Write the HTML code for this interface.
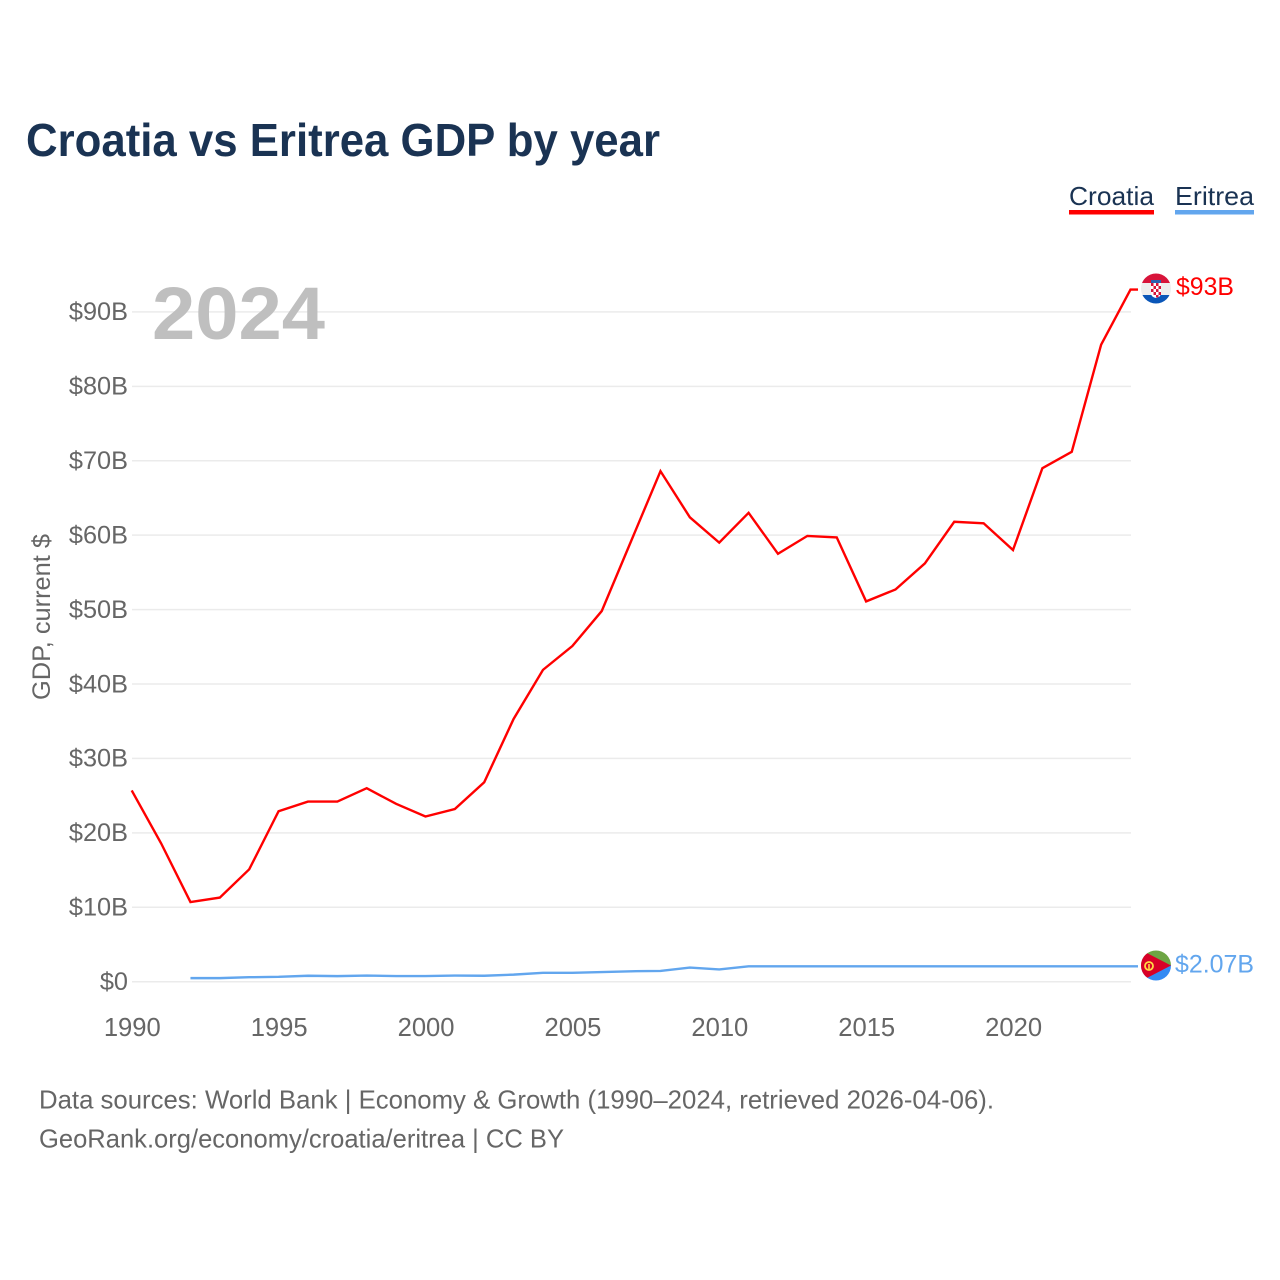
<!DOCTYPE html>
<html lang="en">
<head>
<meta charset="utf-8">
<title>Croatia vs Eritrea GDP by year</title>
<style>
html,body{margin:0;padding:0;background:#fff;}
svg{display:block;}
text{font-family:"Liberation Sans",sans-serif;}
</style>
</head>
<body>
<svg id="chart" xmlns="http://www.w3.org/2000/svg" width="1280" height="1280" viewBox="0 0 1280 1280">
  <defs>
    <clipPath id="flag-clip-hr"><circle cx="1156" cy="288.5" r="15"/></clipPath>
    <clipPath id="flag-clip-er"><circle cx="1156" cy="965.5" r="15"/></clipPath>
  </defs>
  <rect width="1280" height="1280" fill="#fff"/>
  <text x="26" y="156" font-size="46" font-weight="700" fill="#1a3353" textLength="634" lengthAdjust="spacingAndGlyphs">Croatia vs Eritrea GDP by year</text>

  <g>
    <g>
      <text x="1069" y="205" font-size="26" fill="#1a3353" textLength="85" lengthAdjust="spacingAndGlyphs">Croatia</text>
      <rect x="1069" y="210" width="85" height="4.5" fill="#ff0000"/>
    </g>
    <g>
      <text x="1175" y="205" font-size="26" fill="#1a3353" textLength="79" lengthAdjust="spacingAndGlyphs">Eritrea</text>
      <rect x="1175" y="210" width="79" height="4.5" fill="#62a6ee"/>
    </g>
  </g>

  <g id="grid"></g>
  <g id="y-axis"></g>
  <g id="x-axis"></g>

  <text x="152" y="339" font-size="74" font-weight="700" fill="#bfbfbf" textLength="173" lengthAdjust="spacingAndGlyphs">2024</text>

  <text transform="translate(50,617) rotate(-90)" text-anchor="middle" font-size="25" fill="#666666" textLength="166" lengthAdjust="spacingAndGlyphs">GDP, current $</text>

  <g id="series"></g>

  <g clip-path="url(#flag-clip-hr)">
    <rect x="1141" y="273" width="30" height="10.500" fill="#d8143a"/>
    <rect x="1141" y="283" width="30" height="12" fill="#eeeeee"/>
    <rect x="1141" y="295" width="30" height="10" fill="#0a56b8"/>
    <path d="M1151 280h10v13q0 4-5 5q-5-1-5-5z" fill="#fff"/>
    <rect x="1151" y="280" width="10" height="3" fill="#2a62b0"/>
    <path d="M1151 283h2.500v3h-2.500zM1156 283h2.500v3h-2.500zM1153.500 286h2.500v3h-2.500zM1158.500 286h2.500v3h-2.500zM1151 289h2.500v3h-2.500zM1156 289h2.500v3h-2.500zM1153.500 292h2.500v3h-2.500zM1158.500 292h2.500v3h-2.500zM1156 295h2.500v2.500h-2.500z" fill="#d8143a"/>
  </g>
  <g clip-path="url(#flag-clip-er)">
    <rect x="1141" y="950" width="30" height="16" fill="#6da544"/>
    <rect x="1141" y="965" width="30" height="16" fill="#338af3"/>
    <path d="M1141 950L1171 965.500L1141 981z" fill="#d80027"/>
    <circle cx="1149" cy="966" r="4" fill="none" stroke="#ffda44" stroke-width="1.800"/>
    <rect x="1148.200" y="964" width="1.600" height="5" fill="#ffda44"/>
  </g>

  <text x="1176" y="295" font-size="25" fill="#ff0000" textLength="58" lengthAdjust="spacingAndGlyphs">$93B</text>
  <text x="1175" y="972.500" font-size="25" fill="#62a6ee" textLength="79" lengthAdjust="spacingAndGlyphs">$2.07B</text>

  <g>
    <text x="39" y="1108.500" font-size="26" fill="#666666" textLength="955" lengthAdjust="spacingAndGlyphs">Data sources: World Bank | Economy &amp; Growth (1990–2024, retrieved 2026-04-06).</text>
    <text x="39" y="1147.500" font-size="26" fill="#666666" textLength="525" lengthAdjust="spacingAndGlyphs">GeoRank.org/economy/croatia/eritrea | CC BY</text>
  </g>
</svg>
<script>
const years = [1990,1991,1992,1993,1994,1995,1996,1997,1998,1999,2000,2001,2002,2003,2004,2005,2006,2007,2008,2009,2010,2011,2012,2013,2014,2015,2016,2017,2018,2019,2020,2021,2022,2023,2024];
const croatia = [25.7,18.6,10.7,11.3,15.1,22.9,24.2,24.2,26.0,23.9,22.2,23.2,26.8,35.3,41.9,45.1,49.8,59.2,68.6,62.4,59.0,63.0,57.5,59.9,59.7,51.1,52.7,56.2,61.8,61.6,58.0,69.0,71.2,85.6,93.0];
const eritrea = [null,null,0.48,0.48,0.6,0.65,0.8,0.75,0.82,0.76,0.76,0.82,0.8,0.95,1.2,1.2,1.3,1.4,1.45,1.9,1.65,2.07,2.07,2.07,2.07,2.07,2.07,2.07,2.07,2.07,2.07,2.07,2.07,2.07,2.07];
const yTicks = [0,10,20,30,40,50,60,70,80,90];
const yTickLabels = ['$0','$10B','$20B','$30B','$40B','$50B','$60B','$70B','$80B','$90B'];
const xTicks = [1990,1995,2000,2005,2010,2015,2020];
const xTickLabels = ['1990','1995','2000','2005','2010','2015','2020'];

const NS = 'http://www.w3.org/2000/svg';
const xScale = function (year) { return 131.7 + (year - 1990) * (1130.5 - 131.7) / 34; };
const yScale = function (v) { return 981.7 - v * (981.7 - 311.9) / 90; };

const grid = document.getElementById('grid');
const yAxis = document.getElementById('y-axis');
const xAxis = document.getElementById('x-axis');
const seriesGroup = document.getElementById('series');

yTicks.forEach(function (t, i) {
  const line = document.createElementNS(NS, 'line');
  
  
  line.setAttribute('x1', 132);
  line.setAttribute('x2', 1131);
  line.setAttribute('y1', yScale(t));
  line.setAttribute('y2', yScale(t));
  line.setAttribute('stroke', '#ebebeb');
  line.setAttribute('stroke-width', '1.5');
  grid.appendChild(line);

  const label = document.createElementNS(NS, 'text');
  
  
  label.setAttribute('x', 128);
  label.setAttribute('y', yScale(t) + 8.3);
  label.setAttribute('text-anchor', 'end');
  label.setAttribute('font-size', '25.3');
  label.setAttribute('fill', '#666666');
  label.textContent = yTickLabels[i];
  yAxis.appendChild(label);
});

xTicks.forEach(function (t, i) {
  const label = document.createElementNS(NS, 'text');
  
  
  label.setAttribute('x', xScale(t) + 0.6);
  label.setAttribute('y', 1036);
  label.setAttribute('text-anchor', 'middle');
  label.setAttribute('font-size', '25.6');
  label.setAttribute('fill', '#666666');
  label.textContent = xTickLabels[i];
  xAxis.appendChild(label);
});

function drawSeries(values, color, name) {
  const pts = [];
  values.forEach(function (v, i) {
    if (v !== null) pts.push(xScale(years[i]).toFixed(2) + ',' + yScale(v).toFixed(2));
  });
  const lastValue = values[values.length - 1];
  pts.push('1138,' + yScale(lastValue).toFixed(2));
  const line = document.createElementNS(NS, 'polyline');
  
  
  line.setAttribute('points', pts.join(' '));
  line.setAttribute('fill', 'none');
  line.setAttribute('stroke', color);
  line.setAttribute('stroke-width', '2.4');
  line.setAttribute('stroke-linejoin', 'miter');
  seriesGroup.appendChild(line);
}
drawSeries(eritrea, '#62a6ee', 'eritrea-line');
drawSeries(croatia, '#ff0000', 'croatia-line');
</script>
</body>
</html>
